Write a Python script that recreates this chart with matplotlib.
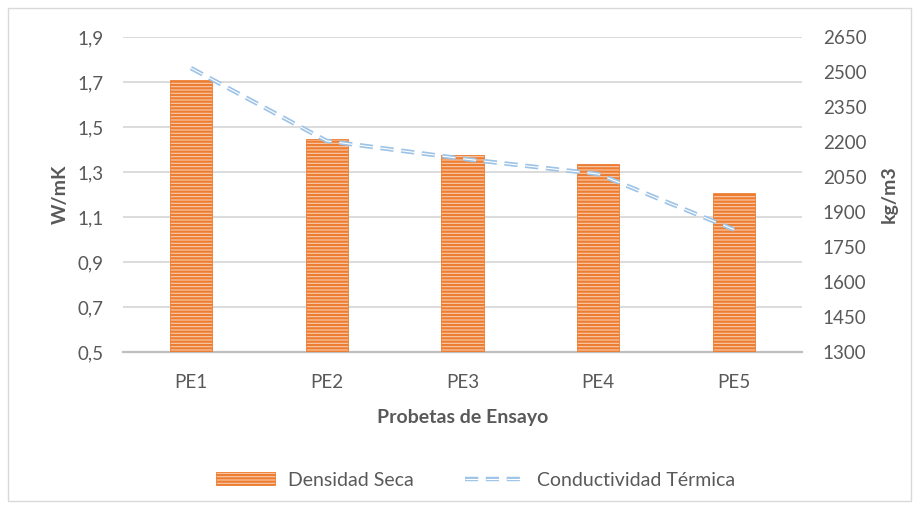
"""Densidad seca (barras) y conductividad termica (linea) por probeta"""
import matplotlib.pyplot as plt
import numpy as np
from matplotlib.lines import Line2D
from matplotlib.patches import Patch, Rectangle
from matplotlib.ticker import FuncFormatter
from matplotlib.legend_handler import HandlerTuple

probetas = ["PE1", "PE2", "PE3", "PE4", "PE5"]
densidad = [2467, 2213, 2143, 2107, 1981]          # kg/m3
conductividad = [1.762, 1.438, 1.359, 1.291, 1.044]  # W/mK

gris_txt = "#595959"
naranja = "#ED7D31"
naranja_claro = "#F8CBAD"
azul = "#9DC3E6"

plt.rcParams["font.family"] = ["Lato", "DejaVu Sans"]
plt.rcParams["hatch.linewidth"] = 1.6
plt.rcParams["hatch.color"] = naranja
plt.rcParams["lines.scale_dashes"] = False

fig = plt.figure(figsize=(9.2, 5.09), dpi=100)
fig.patches.append(Rectangle((0.009, 0.016), 0.981, 0.968, transform=fig.transFigure,
                             fill=False, edgecolor="#D9D9D9", linewidth=1))

pos = [123 / 920, 1 - 352 / 509, (802 - 123) / 920, (352 - 37) / 509]
ax = fig.add_axes(pos)
x = np.arange(len(probetas))

# eje izquierdo: W/mK con cuadricula
ax.set_ylim(0.5, 1.9)
ax.set_yticks(np.linspace(0.5, 1.9, 8))
ax.yaxis.set_major_formatter(FuncFormatter(lambda v, p: f"{v:.1f}".replace(".", ",")))
ax.grid(axis="y", color="#D9D9D9", linewidth=1.3)
ax.set_axisbelow(True)
ax.set_xlim(-0.5, len(probetas) - 0.5)
ax.set_xticks(x)
ax.set_xticklabels(probetas)
for s in ["top", "left", "right"]:
    ax.spines[s].set_visible(False)
ax.spines["bottom"].set_color("#BFBFBF")
ax.spines["bottom"].set_linewidth(1.6)
ax.tick_params(length=0, labelsize=13.5, labelcolor=gris_txt, pad=14)
ax.tick_params(axis="x", pad=16)
ax.set_ylabel("W/mK", fontsize=14, fontweight="bold", color=gris_txt, labelpad=6)
ax.set_xlabel("Probetas de Ensayo", fontsize=14, fontweight="bold", color=gris_txt, labelpad=13)

# eje derecho: kg/m3 con barras
ax2 = ax.twinx()
ax2.set_ylim(1300, 2650)
ax2.set_yticks(np.arange(1300, 2651, 150))
ax2.bar(x, densidad, width=0.31, facecolor=naranja_claro, edgecolor=naranja,
        linewidth=0.6, hatch="-----")
for s in ax2.spines.values():
    s.set_visible(False)
ax2.tick_params(length=0, labelsize=13.5, labelcolor=gris_txt, pad=15)
ax2.set_ylabel("kg/m3", fontsize=14, fontweight="bold", color=gris_txt, labelpad=10)

# capa superior para la linea (comparte escala W/mK)
ax3 = fig.add_axes(pos, sharex=ax, sharey=ax)
ax3.axis("off")
ax3.plot(x, conductividad, color=azul, linewidth=3.2, dashes=(9.5, 5.5))
ax3.plot(x, conductividad, color="white", linewidth=0.8, dashes=(9.5, 5.5))

h_bar = Patch(facecolor=naranja_claro, edgecolor=naranja, hatch="-----", linewidth=0.6)
h_l1 = Line2D([], [], color=azul, linewidth=3.2, dashes=(9.5, 5.5))
h_l2 = Line2D([], [], color="white", linewidth=0.8, dashes=(9.5, 5.5))
leg = fig.legend([h_bar, (h_l1, h_l2)], ["Densidad Seca", "Conductividad Térmica"],
                 handler_map={tuple: HandlerTuple(ndivide=1)},
                 loc="center", bbox_to_anchor=(0.517, 1 - 480 / 509), ncol=2,
                 frameon=False, fontsize=14, handlelength=3.0, handleheight=0.6,
                 columnspacing=2.6, handletextpad=0.7)
for t in leg.get_texts():
    t.set_color(gris_txt)

fig.savefig("out.png", dpi=100)
